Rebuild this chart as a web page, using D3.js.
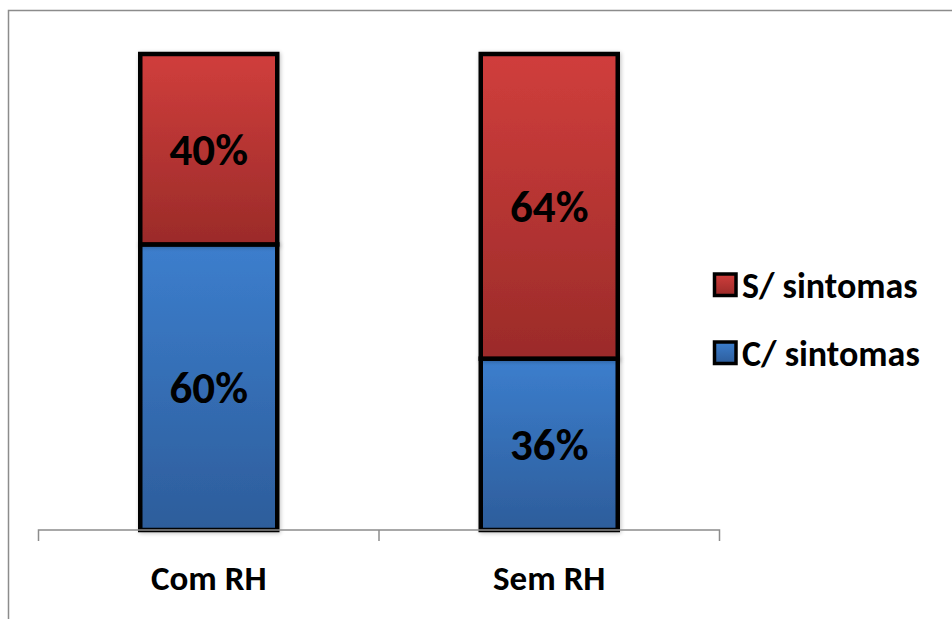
<!DOCTYPE html>
<html><head><meta charset="utf-8">
<script src="https://cdn.jsdelivr.net/npm/d3@7"></script>
<style>body{margin:0;background:#fff}svg{display:block}</style>
</head><body>
<svg id="c" width="952" height="619"></svg>
<script>
const categories = ["Com RH", "Sem RH"];
const seriesNames = ["C/ sintomas", "S/ sintomas"];
const cSintomas = [60, 36];
const sSintomas = [40, 64];
const valueLabels = [["60%", "36%"], ["40%", "64%"]];

const svg = d3.select("#c");
const font = "Carlito, Calibri, Lato, 'Open Sans', sans-serif";

// chart border
svg.append("path").attr("d","M8.5,619 L8.5,10.5 L952,10.5").attr("fill","none").attr("stroke","#8c8c8c").attr("stroke-width",1.5);

const defs = svg.append("defs");
const grads = [["gBlue","#3c7ecd","#2d5d9b"],["gRed","#d03e3c","#9b2b29"]];
grads.forEach(([id,a,b])=>{
  const g = defs.append("linearGradient").attr("id",id).attr("x1",0).attr("y1",0).attr("x2",0).attr("y2",1);
  g.append("stop").attr("offset","0%").attr("stop-color",a);
  g.append("stop").attr("offset","100%").attr("stop-color",b);
});
const f = defs.append("filter").attr("id","sh").attr("x","-10%").attr("y","-10%").attr("width","120%").attr("height","120%");
f.append("feGaussianBlur").attr("in","SourceAlpha").attr("stdDeviation",2).attr("result","b");
f.append("feOffset").attr("in","b").attr("dx",1).attr("dy",1).attr("result","o");
f.append("feComponentTransfer").attr("in","o").attr("result","o2").append("feFuncA").attr("type","linear").attr("slope",0.25);
const m = f.append("feMerge"); m.append("feMergeNode").attr("in","o2"); m.append("feMergeNode").attr("in","SourceGraphic");

const x = d3.scaleBand().domain(categories).range([38.5, 719.5]).paddingInner(0).paddingOuter(0);
const y = d3.scaleLinear().domain([0,100]).range([530, 54]);
const barW = 137;

const stack = d3.stack().keys([0,1]).value((d,k)=> k===0 ? cSintomas[d] : sSintomas[d]);
const layers = stack(categories.map((c,i)=>i));
const fills = ["url(#gBlue)","url(#gRed)"];

layers.forEach((layer,k)=>{
  const g = svg.append("g");
  layer.forEach((d,i)=>{
    const cx = x(categories[i]) + x.bandwidth()/2;
    const y0 = y(d[0]), y1 = y(d[1]);
    g.append("rect").attr("x",cx-barW/2).attr("y",y1).attr("width",barW).attr("height",y0-y1)
      .attr("fill",fills[k]).attr("stroke","#000").attr("stroke-width",4.5).attr("filter","url(#sh)");
  });
});
layers.forEach((layer,k)=>{
  layer.forEach((d,i)=>{
    const cx = x(categories[i]) + x.bandwidth()/2;
    const ym = (y(d[0])+y(d[1]))/2;
    svg.append("text").attr("x",cx).attr("y",ym).attr("dy","0.35em").attr("text-anchor","middle")
      .attr("font-family",font).attr("font-weight","bold").attr("font-size",45).attr("fill","#000")
      .text(valueLabels[k][i]);
  });
});

// axis
const ag = svg.append("g").attr("transform","translate(0,530)");
ag.append("path").attr("d",`M${x.range()[0]},11 V0 H${x.range()[1]} V11`).attr("fill","none").attr("stroke","#8c8c8c").attr("stroke-width",1.5);
categories.forEach((c,i)=>{
  if(i>0) ag.append("line").attr("x1",x(c)).attr("x2",x(c)).attr("y1",0).attr("y2",11).attr("stroke","#8c8c8c").attr("stroke-width",1.5);
  ag.append("text").attr("x",x(c)+x.bandwidth()/2).attr("y",60).attr("text-anchor","middle")
    .attr("font-family",font).attr("font-weight","bold").attr("font-size",35).attr("fill","#000").text(c);
});

// legend
const legendItems = [[1,"url(#gRed)"],[0,"url(#gBlue)"]];
legendItems.forEach(([k,fill],j)=>{
  const ly = 274 + j*68;
  svg.append("rect").attr("x",714.5).attr("y",ly).attr("width",21.5).attr("height",21.5)
    .attr("fill",fill).attr("stroke","#000").attr("stroke-width",3.5);
  svg.append("text").attr("x",742).attr("y",ly+24).attr("font-family",font).attr("font-weight","bold")
    .attr("font-size",36).attr("fill","#000").text(seriesNames[k]);
});
</script>
</body></html>
